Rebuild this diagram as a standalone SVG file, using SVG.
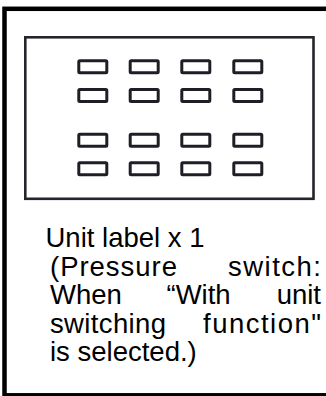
<svg xmlns="http://www.w3.org/2000/svg" width="326" height="396" viewBox="0 0 326 396">
  <style>
    .frame { fill: #ffffff; stroke: #000000; stroke-width: 4.5; }
    .panel { fill: #ffffff; stroke: #24242c; stroke-width: 2.6; }
    .key { fill: #ffffff; stroke: #1e1e26; stroke-width: 3; }
    .txt { font-family: "Liberation Sans", Arial, sans-serif; font-size: 27.5px; fill: #000000; }
  </style>
  <rect width="326" height="396" fill="#ffffff"/>
  <!-- outer card -->
  <rect class="frame" x="4.5" y="8.8" width="330" height="386.5"/>
  <!-- unit label sheet -->
  <g id="label-sheet">
    <rect class="panel" x="25.3" y="37.3" width="288.2" height="161.5"/>
    <g id="unit-keys">
      <rect class="key" x="78.8" y="60.8" width="28" height="12" rx="1"/>
      <rect class="key" x="130.2" y="60.8" width="28" height="12" rx="1"/>
      <rect class="key" x="181.8" y="60.8" width="28" height="12" rx="1"/>
      <rect class="key" x="233.8" y="60.8" width="28" height="12" rx="1"/>
      <rect class="key" x="78.8" y="89.5" width="28" height="12" rx="1"/>
      <rect class="key" x="130.2" y="89.5" width="28" height="12" rx="1"/>
      <rect class="key" x="181.8" y="89.5" width="28" height="12" rx="1"/>
      <rect class="key" x="233.8" y="89.5" width="28" height="12" rx="1"/>
      <rect class="key" x="78.8" y="134.2" width="28" height="12" rx="1"/>
      <rect class="key" x="130.2" y="134.2" width="28" height="12" rx="1"/>
      <rect class="key" x="181.8" y="134.2" width="28" height="12" rx="1"/>
      <rect class="key" x="233.8" y="134.2" width="28" height="12" rx="1"/>
      <rect class="key" x="78.8" y="162.8" width="28" height="12" rx="1"/>
      <rect class="key" x="130.2" y="162.8" width="28" height="12" rx="1"/>
      <rect class="key" x="181.8" y="162.8" width="28" height="12" rx="1"/>
      <rect class="key" x="233.8" y="162.8" width="28" height="12" rx="1"/>
    </g>
  </g>
  <!-- caption, justified word by word -->
  <g id="caption" class="txt">
    <text x="45.5" y="247">Unit label x 1</text>
    <text x="50" y="275.5" textLength="127" lengthAdjust="spacing">(Pressure</text>
    <text x="228" y="275.5" textLength="93" lengthAdjust="spacing">switch:</text>
    <text x="50" y="304">When</text>
    <text x="166.5" y="304">“With</text>
    <text x="321" y="304" text-anchor="end">unit</text>
    <text x="50" y="332.5" textLength="116" lengthAdjust="spacing">switching</text>
    <text x="203" y="332.5" textLength="118" lengthAdjust="spacing">function"</text>
    <text x="50" y="361">is selected.)</text>
  </g>
</svg>
